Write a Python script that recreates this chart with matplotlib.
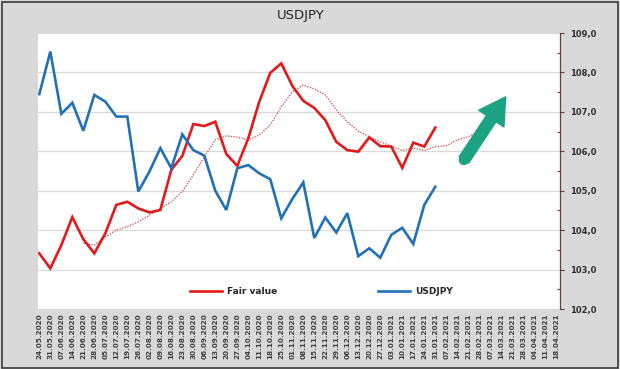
import matplotlib
matplotlib.use("Agg")
import matplotlib.pyplot as plt
import numpy as np
from matplotlib.patches import Rectangle

# ---- data ----
dates = ["24.05.2020", "31.05.2020", "07.06.2020", "14.06.2020", "21.06.2020", "28.06.2020",
         "05.07.2020", "12.07.2020", "19.07.2020", "26.07.2020", "02.08.2020", "09.08.2020",
         "16.08.2020", "23.08.2020", "30.08.2020", "06.09.2020", "13.09.2020", "20.09.2020",
         "27.09.2020", "04.10.2020", "11.10.2020", "18.10.2020", "25.10.2020", "01.11.2020",
         "08.11.2020", "15.11.2020", "22.11.2020", "29.11.2020", "06.12.2020", "13.12.2020",
         "20.12.2020", "27.12.2020", "03.01.2021", "10.01.2021", "17.01.2021", "24.01.2021",
         "31.01.2021", "07.02.2021", "14.02.2021", "21.02.2021", "28.02.2021", "07.03.2021",
         "14.03.2021", "21.03.2021", "28.03.2021", "04.04.2021", "11.04.2021", "18.04.2021"]

fair_value = [103.41, 103.03, 103.62, 104.33, 103.77, 103.41, 103.92, 104.64, 104.72, 104.55,
              104.45, 104.51, 105.53, 105.88, 106.69, 106.64, 106.75, 105.93, 105.63, 106.33,
              107.26, 107.99, 108.23, 107.66, 107.28, 107.10, 106.79, 106.24, 106.03, 105.99,
              106.35, 106.13, 106.12, 105.58, 106.22, 106.12, 106.60]

usdjpy = [107.45, 108.53, 106.95, 107.23, 106.52, 107.43, 107.26, 106.88, 106.88, 104.98,
          105.48, 106.08, 105.57, 106.43, 106.03, 105.89, 105.00, 104.51, 105.57, 105.65,
          105.44, 105.29, 104.30, 104.79, 105.21, 103.80, 104.32, 103.94, 104.43, 103.34,
          103.54, 103.30, 103.88, 104.06, 103.65, 104.64, 105.10]

fair_ma_start = 4
fair_ma = [103.67, 103.62, 103.83, 104.00, 104.09, 104.21, 104.38, 104.55, 104.72, 104.98,
           105.40, 105.86, 106.29, 106.39, 106.36, 106.29, 106.41, 106.67, 107.13, 107.51,
           107.68, 107.58, 107.43, 107.05, 106.75, 106.51, 106.37, 106.24, 106.13, 106.02,
           106.08, 106.02, 106.12, 106.14, 106.29, 106.37, 106.50]

y_ticks = [102.0, 103.0, 104.0, 105.0, 106.0, 107.0, 108.0, 109.0]
arrow_from = (38.6, 105.78)
arrow_to = (42.4, 107.38)

# ---- figure ----
W, H = 620, 369
fig = plt.figure(figsize=(W / 100, H / 100), dpi=100)
bg = "#d9d9d9"
fig.patch.set_facecolor(bg)
fig.patches.append(Rectangle((0.003, 0.004), 0.993, 0.991, transform=fig.transFigure,
                             fill=False, edgecolor="#3a3a3a", linewidth=1.2))

ax = fig.add_axes([38 / W, 1 - 309 / H, (560 - 38) / W, (309 - 33) / H])
ax.set_facecolor("white")

x_fv = np.arange(len(fair_value))
x_us = np.arange(len(usdjpy))
x_ma = np.arange(fair_ma_start, fair_ma_start + len(fair_ma))

ax.plot(x_ma, fair_ma, color="#d2403c", lw=0.9, linestyle=(0, (1, 1.2)), zorder=2)
l1, = ax.plot(x_fv, fair_value, color="#e3191b", lw=1.9, zorder=3, label="Fair value",
              solid_joinstyle="miter")
l2, = ax.plot(x_us, usdjpy, color="#2271b5", lw=1.9, zorder=3, label="USDJPY",
              solid_joinstyle="miter")

# arrow
arrow_col = "#1ca383"
ax.annotate("", xy=arrow_to, xytext=arrow_from,
            arrowprops=dict(arrowstyle="simple,head_length=1.25,head_width=1.45,tail_width=0.55",
                            mutation_scale=15, color=arrow_col, shrinkA=0, shrinkB=0),
            zorder=4)
ax.plot([arrow_from[0], arrow_from[0] + 0.4], [arrow_from[1], arrow_from[1] + 0.17],
        color=arrow_col, lw=7.5, solid_capstyle="round", zorder=4)

ax.set_xlim(-0.12, 47.34)
ax.set_ylim(102, 109)

ax.yaxis.tick_right()
ax.set_yticks(y_ticks)
ax.set_yticklabels([f"{v:.1f}".replace(".", ",") for v in y_ticks],
                   fontsize=6, fontweight="bold", color="#303030")
ax.set_yticks(np.arange(102.5, 109, 1.0), minor=True)
ax.tick_params(axis="y", which="major", length=3, width=0.8, color="#6b3a3a", pad=4)
ax.tick_params(axis="y", which="minor", length=2.5, width=0.8, color="#6b3a3a", direction="in")
ax.grid(axis="y", which="major", color="#d9d9d9", lw=0.9, zorder=0)
ax.set_axisbelow(True)

ax.set_xticks(np.arange(len(dates)))
ax.set_xticklabels(dates, rotation=90, fontsize=5.2, fontweight="bold", color="#404040")
ax.tick_params(axis="x", length=0, pad=3)

for s in ["left", "top", "bottom"]:
    ax.spines[s].set_visible(False)
ax.spines["right"].set_color("#6b3a3a")
ax.spines["right"].set_linewidth(0.9)

leg = ax.legend(handles=[l1, l2], ncol=2, frameon=False, loc="center",
                bbox_to_anchor=(0.543, 0.062), prop=dict(size=6.5, weight="bold"),
                handlelength=3.5, handletextpad=0.55, columnspacing=11.2)
for t in leg.get_texts():
    t.set_color("#262626")

fig.text(301 / W, 1 - 15 / H, "USDJPY", ha="center", va="center", fontsize=9.5,
         color="#262626")

fig.savefig("out.png", dpi=100, facecolor=bg)
